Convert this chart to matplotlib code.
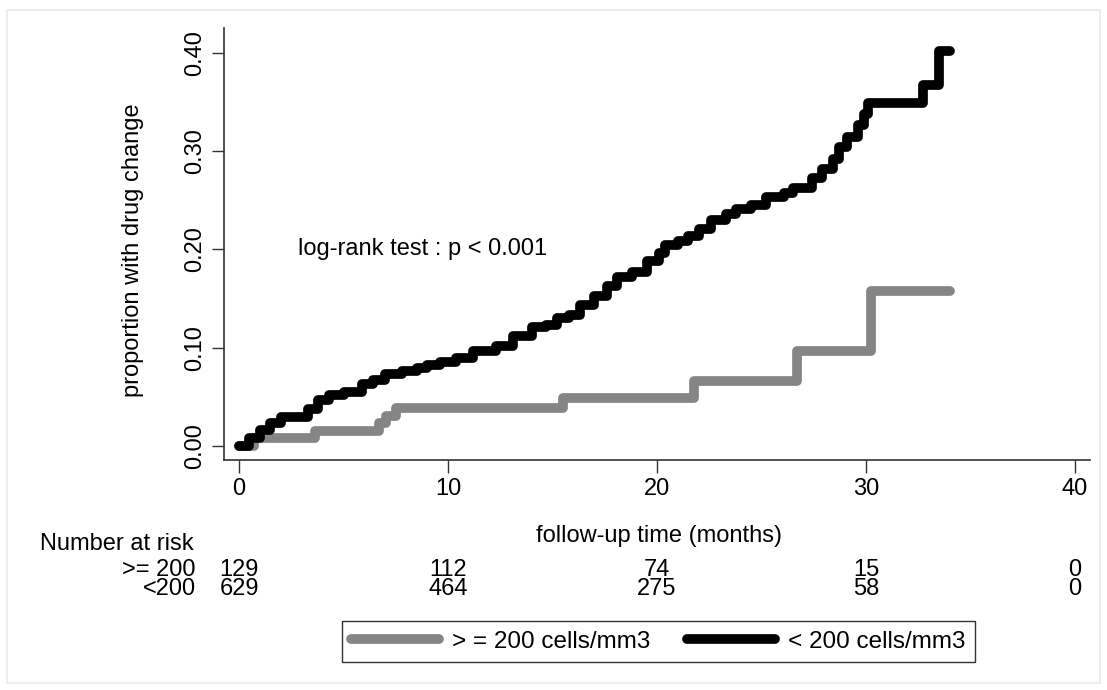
import matplotlib
matplotlib.use('Agg')
import matplotlib.pyplot as plt
import matplotlib.transforms as mtransforms
from matplotlib.patches import Rectangle

plt.rcParams['font.family'] = ['Liberation Sans', 'DejaVu Sans']

## data
t_low = [0, 0.5, 1.0, 1.5, 2.0, 3.3, 3.8, 4.3, 5.0, 5.9, 6.4, 7.0, 7.8, 8.5, 9.0,
         9.6, 10.4, 11.2, 12.3, 13.1, 14.0, 14.7, 15.2, 15.8, 16.3, 17.0, 17.6,
         18.1, 18.8, 19.5, 20.1, 20.4, 21.0, 21.5, 22.0, 22.6, 23.3, 23.8, 24.5,
         25.2, 26.1, 26.5, 27.4, 27.9, 28.4, 28.7, 29.1, 29.6, 29.9, 30.1, 32.75,
         33.5, 34.0]
p_low = [0.0, 0.008, 0.016, 0.023, 0.030, 0.038, 0.047, 0.052, 0.055, 0.063, 0.067,
         0.073, 0.076, 0.079, 0.082, 0.085, 0.089, 0.097, 0.102, 0.112, 0.121,
         0.123, 0.130, 0.133, 0.143, 0.153, 0.163, 0.172, 0.177, 0.188, 0.196,
         0.204, 0.208, 0.214, 0.221, 0.230, 0.236, 0.241, 0.245, 0.253, 0.257,
         0.262, 0.273, 0.282, 0.292, 0.304, 0.314, 0.326, 0.338, 0.349, 0.367,
         0.402, 0.402]

t_high = [0, 0.7, 3.65, 6.7, 7.05, 7.5, 15.5, 21.75, 26.7, 30.25, 34.0]
p_high = [0.0, 0.0078, 0.0155, 0.0233, 0.031, 0.039, 0.049, 0.066, 0.097, 0.158, 0.158]

risk_times = [0, 10, 20, 30, 40]
risk_high = [129, 112, 74, 15, 0]
risk_low = [629, 464, 275, 58, 0]
risk_groups = ['>= 200', '<200']

gray = '#858585'
fs = 17
W, H = 1107, 690

fig = plt.figure(figsize=(W / 100, H / 100), dpi=100)
ax = fig.add_axes([224 / W, 1 - 460 / H, (1090 - 224) / W, (460 - 28) / H])

ax.plot(t_high, p_high, drawstyle='steps-post', color=gray, lw=7,
        solid_capstyle='round', solid_joinstyle='round', label='> = 200 cells/mm3')
ax.plot(t_low, p_low, drawstyle='steps-post', color='black', lw=7,
        solid_capstyle='round', solid_joinstyle='round', label='< 200 cells/mm3')

ax.set_xlim(-0.72, 40.72)
ax.set_ylim(-0.0142, 0.425)
ax.set_xticks([0, 10, 20, 30, 40])
ax.set_yticks([0, 0.1, 0.2, 0.3, 0.4])
ax.set_yticklabels(['0.00', '0.10', '0.20', '0.30', '0.40'], rotation=90, va='center')
ax.tick_params(labelsize=fs, length=9, width=1, color='#333333', pad=4)
for s in ['top', 'right']:
    ax.spines[s].set_visible(False)
for s in ['left', 'bottom']:
    ax.spines[s].set_color('#333333')
    ax.spines[s].set_linewidth(1.2)

ax.text(2.8, 0.2, 'log-rank test : p < 0.001', fontsize=fs, va='center')
fig.text(133 / W, 1 - 250 / H, 'proportion with drug change', rotation=90,
         fontsize=fs, ha='center', va='center')
fig.text(659 / W, 1 - 536 / H, 'follow-up time (months)', fontsize=fs,
         ha='center', va='center')

## number at risk table (each column one two-line text)
tr = mtransforms.blended_transform_factory(ax.transData, fig.transFigure)
ls = 0.82
fig.text(40 / W, 1 - 544 / H, 'Number at risk', fontsize=fs, va='center')
fig.text(196 / W, 1 - 579.5 / H, '\n'.join(risk_groups), fontsize=fs, va='center',
         ha='right', multialignment='right', linespacing=ls)
for t, a, b in zip(risk_times, risk_high, risk_low):
    ax.text(t, 1 - 579.5 / H, f'{a}\n{b}', transform=tr, fontsize=fs, ha='center',
            va='center', multialignment='center', linespacing=ls)

leg = fig.legend(loc='center', bbox_to_anchor=(658.5 / W, 1 - 641.5 / H), ncol=2,
                 fontsize=17.5, frameon=True, fancybox=False, handlelength=3.6,
                 handletextpad=0.55, columnspacing=1.5, borderpad=0.4,
                 borderaxespad=0)
leg.get_frame().set_edgecolor('black')
leg.get_frame().set_linewidth(1.0)

fig.patches.append(Rectangle((7 / W, 1 - 683 / H), 1093 / W, 673 / H,
                             transform=fig.transFigure, fill=False,
                             edgecolor='#e4ecec', lw=1.2))

fig.savefig('out.png', dpi=100)
